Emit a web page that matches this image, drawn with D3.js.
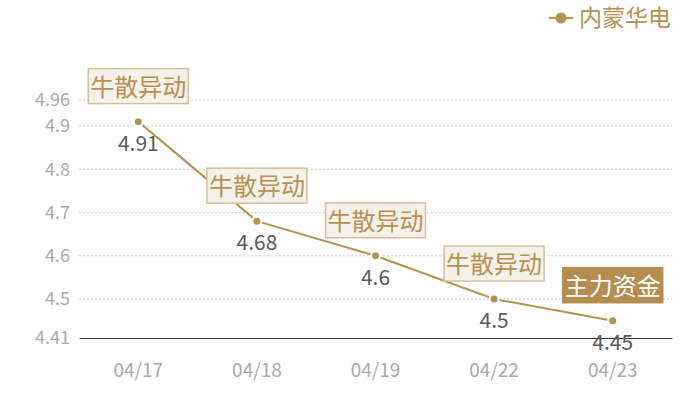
<!DOCTYPE html>
<html>
<head>
<meta charset="utf-8">
<script src="https://cdn.jsdelivr.net/npm/d3@7"></script>
<style>
  body { margin: 0; background: #fff; }
  svg text { font-family: "Noto Sans CJK SC", "Noto Sans", sans-serif; }
</style>
</head>
<body>
<div id="chart-container"><svg></svg></div>
<script>
const dates = ["04/17", "04/18", "04/19", "04/22", "04/23"];
const prices = [4.91, 4.68, 4.6, 4.5, 4.45];
const tags = ["牛散异动", "牛散异动", "牛散异动", "牛散异动", "主力资金"];
const yTicks = [4.41, 4.5, 4.6, 4.7, 4.8, 4.9, 4.96];
const seriesName = "内蒙华电";

const chartSize = {width: 700, height: 400};
const margin = {left: 79, right: 28, top: 100, bottom: 62};
const width = chartSize.width - margin.left - margin.right;
const height = chartSize.height - margin.top - margin.bottom;

const gold = "#b8904f";

const svg = d3.select("#chart-container svg")
  .attr("width", chartSize.width)
  .attr("height", chartSize.height);

const g = svg.append("g")
  .attr("transform", `translate(${margin.left},${margin.top})`);

const x = d3.scaleBand().domain(dates).range([0, width]);
const y = d3.scaleLinear().domain([4.41, 4.96]).range([height, 0]);
const cx = d => x(d) + x.bandwidth() / 2;

// grid lines
g.selectAll(".grid")
  .data(yTicks.slice(1))
  .join("line")
  .attr("x1", 0).attr("x2", width)
  .attr("y1", d => y(d)).attr("y2", d => y(d))
  .attr("stroke", "#ccc")
  .attr("stroke-dasharray", "2,2");

// y axis labels
const yAxis = d3.axisLeft(y).tickValues(yTicks).tickSize(0).tickPadding(9).tickFormat(d => d);
g.append("g").call(yAxis)
  .call(s => s.select(".domain").remove())
  .selectAll("text")
  .attr("fill", "#aaa")
  .attr("font-size", 18);

// x axis
const xAxis = d3.axisBottom(x).tickSize(0).tickPadding(26);
g.append("g")
  .attr("transform", `translate(0,${height})`)
  .call(xAxis)
  .call(s => s.select(".domain").attr("stroke", "#333").attr("stroke-width", 1.2))
  .selectAll("text")
  .attr("fill", "#aaa")
  .attr("font-size", 19);

// line
const line = d3.line()
  .x((d, i) => cx(dates[i]))
  .y(d => y(d));

g.append("path")
  .attr("d", line(prices))
  .attr("fill", "none")
  .attr("stroke", gold)
  .attr("stroke-width", 2);

g.selectAll(".pt")
  .data(prices)
  .join("circle")
  .attr("cx", (d, i) => cx(dates[i]))
  .attr("cy", d => y(d))
  .attr("r", 4.5)
  .attr("fill", gold)
  .attr("stroke", "#fff")
  .attr("stroke-width", 2);

// value labels
g.selectAll(".val")
  .data(prices)
  .join("text")
  .attr("x", (d, i) => cx(dates[i]))
  .attr("y", d => y(d) + 29)
  .attr("text-anchor", "middle")
  .attr("fill", "#5a5a5a")
  .attr("font-size", 21)
  .text(d => d);

// annotation tags
const tag = g.selectAll(".tag")
  .data(prices)
  .join("g")
  .attr("transform", (d, i) => `translate(${cx(dates[i])},${y(d) - 18})`);

tag.append("rect")
  .attr("x", -50).attr("y", -35)
  .attr("width", 100).attr("height", 35)
  .attr("fill", (d, i) => i === 4 ? "#b58d4e" : "#f5f0e9")
  .attr("stroke", (d, i) => i === 4 ? "#b58d4e" : "#d6c09a")
  .attr("stroke-width", 1.5);

tag.append("text")
  .attr("x", 0).attr("y", -8)
  .attr("text-anchor", "middle")
  .attr("font-size", 24)
  .attr("fill", (d, i) => i === 4 ? "#fff" : gold)
  .text((d, i) => tags[i]);

// legend
const legend = svg.append("g").attr("transform", "translate(549,18)");
legend.append("line")
  .attr("x1", 0).attr("x2", 24)
  .attr("stroke", gold).attr("stroke-width", 2);
legend.append("circle")
  .attr("cx", 12).attr("r", 5.5).attr("fill", gold);
legend.append("text")
  .attr("x", 30).attr("y", 8)
  .attr("font-size", 23)
  .attr("fill", gold)
  .text(seriesName);
</script>
</body>
</html>
